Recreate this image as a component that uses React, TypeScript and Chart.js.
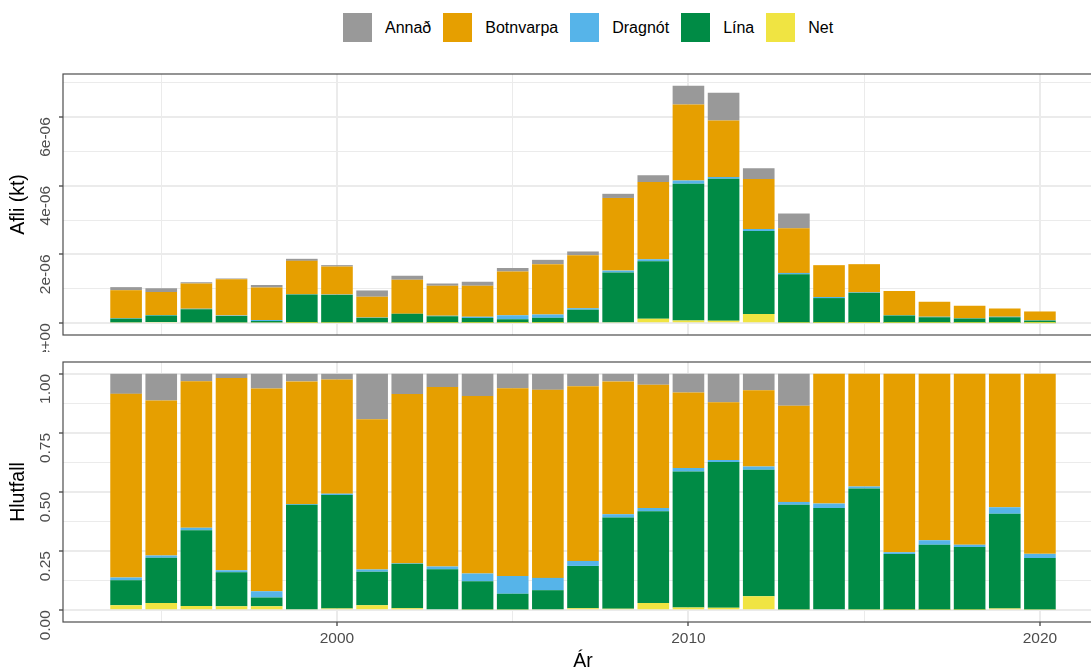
import React, { useEffect, useRef } from "react";
import { Chart, registerables } from "chart.js";

Chart.register(...registerables);

const FONT = "'Liberation Sans', Arial, Helvetica, sans-serif";

// Years and catch by gear (values in units of 1e-6 kt)
const years = [1994, 1995, 1996, 1997, 1998, 1999, 2000, 2001, 2002, 2003, 2004, 2005, 2006, 2007, 2008, 2009, 2010, 2011, 2012, 2013, 2014, 2015, 2016, 2017, 2018, 2019, 2020];
const UNIT = 1e-6;
const net = [0.022, 0.031, 0.021, 0.022, 0.019, 0.007, 0.012, 0.020, 0.011, 0.005, 0.004, 0.005, 0.007, 0.017, 0.023, 0.129, 0.076, 0.067, 0.266, 0.010, 0.007, 0.005, 0.002, 0.001, 0.001, 0.003, 0.001];
const lina = [0.111, 0.195, 0.383, 0.187, 0.041, 0.828, 0.811, 0.135, 0.259, 0.195, 0.144, 0.106, 0.149, 0.374, 1.454, 1.673, 3.982, 4.139, 2.416, 1.415, 0.723, 0.880, 0.220, 0.171, 0.134, 0.171, 0.074];
const dragnot = [0.012, 0.010, 0.012, 0.010, 0.029, 0.006, 0.010, 0.009, 0.004, 0.014, 0.039, 0.120, 0.096, 0.044, 0.053, 0.060, 0.097, 0.054, 0.063, 0.038, 0.032, 0.014, 0.007, 0.012, 0.005, 0.012, 0.006];
const botnvarpa = [0.815, 0.668, 0.739, 1.058, 0.950, 0.973, 0.816, 0.605, 0.987, 0.878, 0.904, 1.274, 1.467, 1.544, 2.117, 2.250, 2.212, 1.644, 1.454, 1.300, 0.927, 0.819, 0.704, 0.437, 0.366, 0.241, 0.259];
const annad = [0.089, 0.115, 0.038, 0.023, 0.069, 0.060, 0.041, 0.183, 0.117, 0.064, 0.113, 0.098, 0.125, 0.109, 0.121, 0.198, 0.546, 0.805, 0.316, 0.431, 0, 0, 0, 0, 0, 0, 0];

// Gear names and colours (stack order: bottom first)
const gearNames = ["Net", "Lína", "Dragnót", "Botnvarpa", "Annað"];
const gearColors = ["#F0E442", "#008B45", "#56B4E9", "#E69F00", "#999999"];
const gearValues = [net, lina, dragnot, botnvarpa, annad];
const legendOrder = [4, 3, 2, 1, 0];

// Axis ticks
const xGridValues = [1995, 2000, 2005, 2010, 2015, 2020];
const xTickLabels = ["2000", "2010", "2020"];
const topGridValues = [0, 1, 2, 3, 4, 5, 6, 7];
const topTickValues = [0, 2, 4, 6];
const topTickLabels = ["0e+00", "2e-06", "4e-06", "6e-06"];
const botGridValues = [0, 0.125, 0.25, 0.375, 0.5, 0.625, 0.75, 0.875, 1];
const botTickValues = [0, 0.25, 0.5, 0.75, 1];
const botTickLabels = ["0.00", "0.25", "0.50", "0.75", "1.00"];

const totals = years.map((_, i) => gearValues.reduce((s, arr) => s + arr[i], 0));

const borderPlugin = {
  id: "panelBorder",
  afterDraw(chart: any) {
    const { ctx, chartArea: a } = chart;
    ctx.save();
    ctx.strokeStyle = "#4D4D4D";
    ctx.lineWidth = 1.2;
    ctx.strokeRect(a.left, a.top, a.right - a.left, a.bottom - a.top);
    ctx.restore();
  },
};

const near = (a: number, b: number) => Math.abs(a - b) < 1e-9;

function buildDatasets(proportional: boolean) {
  return gearValues.map((vals, g) => ({
    label: gearNames[g],
    data: years.map((yr, i) => ({
      x: yr,
      y: proportional ? vals[i] / totals[i] : vals[i] * UNIT,
    })),
    backgroundColor: gearColors[g],
    borderWidth: 0,
    barPercentage: 0.9,
    categoryPercentage: 1,
  }));
}

function xScale(showLabels: boolean, height: number) {
  return {
    type: "linear",
    stacked: true,
    bounds: "data",
    offset: false,
    min: 1992.205,
    max: 2021.795,
    afterBuildTicks: (s: any) => {
      s.ticks = xGridValues.map((v) => ({ value: v }));
    },
    afterFit: (s: any) => {
      s.height = height;
      s.paddingLeft = 0;
      s.paddingRight = 0;
    },
    ticks: {
      display: showLabels,
      autoSkip: false,
      maxRotation: 0,
      minRotation: 0,
      padding: 3,
      color: "#4D4D4D",
      font: { family: FONT, size: 15.5 },
      callback: (v: any) => {
        const lbl = xTickLabels.find((t) => Number(t) === v);
        return lbl ?? "";
      },
    },
    grid: {
      offset: false,
      color: "#EBEBEB",
      lineWidth: (c: any) => (c.tick && c.tick.value % 10 === 0 ? 2 : 1),
      drawTicks: showLabels,
      tickLength: 4,
      tickWidth: 1.2,
      tickColor: (c: any) => (c.tick && c.tick.value % 10 === 0 ? "#333333" : "rgba(0,0,0,0)"),
    },
    border: { display: false },
    title: showLabels
      ? {
          display: true,
          text: "Ár",
          color: "#000",
          font: { family: FONT, size: 19.5, lineHeight: 1 },
          padding: { top: 0, bottom: 0 },
        }
      : { display: false },
  };
}

function yScale(min: number, max: number, grid: number[], tickVals: number[], tickLbls: string[], unit: number, title: string) {
  return {
    type: "linear",
    stacked: true,
    bounds: "data",
    min,
    max,
    afterBuildTicks: (s: any) => {
      s.ticks = grid.map((v) => ({ value: v * unit }));
    },
    afterFit: (s: any) => {
      s.width = 63;
      s.paddingTop = 0;
      s.paddingBottom = 0;
    },
    ticks: {
      autoSkip: false,
      minRotation: 90,
      maxRotation: 90,
      padding: 13,
      color: "#4D4D4D",
      font: { family: FONT, size: 15.5 },
      callback: (v: any) => {
        const idx = tickVals.findIndex((t) => near(t, v / unit));
        return idx >= 0 ? tickLbls[idx] : "";
      },
    },
    grid: {
      color: "#EBEBEB",
      lineWidth: (c: any) => {
        if (!c.tick) return 1;
        return tickVals.some((t) => near(t, c.tick.value / unit)) ? 2 : 1;
      },
      drawTicks: true,
      tickLength: 4,
      tickWidth: 1.2,
      tickColor: (c: any) => {
        if (!c.tick) return "rgba(0,0,0,0)";
        return tickVals.some((t) => near(t, c.tick.value / unit)) ? "#333333" : "rgba(0,0,0,0)";
      },
    },
    border: { display: false },
    title: {
      display: true,
      text: title,
      color: "#000",
      font: { family: FONT, size: 19.5, lineHeight: 1 },
      padding: { top: 9, bottom: 0 },
    },
  };
}

export default function App() {
  const topRef = useRef<HTMLCanvasElement | null>(null);
  const botRef = useRef<HTMLCanvasElement | null>(null);

  useEffect(() => {
    if (!topRef.current || !botRef.current) return;
    const top = new Chart(topRef.current, {
      type: "bar",
      data: { datasets: buildDatasets(false) as any },
      options: {
        animation: false,
        responsive: true,
        maintainAspectRatio: false,
        layout: { padding: { top: 14, bottom: 0, left: 0, right: 1 } },
        plugins: { legend: { display: false }, tooltip: { enabled: false } },
        scales: {
          x: xScale(false, 17) as any,
          y: yScale(-0.3457 * UNIT, 7.2587 * UNIT, topGridValues, topTickValues, topTickLabels, UNIT, "Afli (kt)") as any,
        },
      },
      plugins: [borderPlugin],
    });
    const bot = new Chart(botRef.current, {
      type: "bar",
      data: { datasets: buildDatasets(true) as any },
      options: {
        animation: false,
        responsive: true,
        maintainAspectRatio: false,
        layout: { padding: { top: 10, bottom: 0, left: 0, right: 1 } },
        plugins: { legend: { display: false }, tooltip: { enabled: false } },
        scales: {
          x: xScale(true, 49) as any,
          y: yScale(-0.05, 1.05, botGridValues, botTickValues, botTickLabels, 1, "Hlutfall") as any,
        },
      },
      plugins: [borderPlugin],
    });
    return () => {
      top.destroy();
      bot.destroy();
    };
  }, []);

  return (
    <div style={{ position: "absolute", left: 0, top: 0, width: 1091, height: 671, overflow: "hidden", background: "#fff", fontFamily: FONT }}>
      <div style={{ position: "absolute", left: 343, top: 13, display: "flex", alignItems: "center", height: 29 }}>
        {legendOrder.map((g) => (
          <div key={g} style={{ display: "flex", alignItems: "center", marginRight: 12 }}>
            <div style={{ width: 29, height: 29, background: gearColors[g] }} />
            <span style={{ marginLeft: 13, fontSize: 16, color: "#000", lineHeight: "29px" }}>{gearNames[g]}</span>
          </div>
        ))}
      </div>
      <div style={{ position: "absolute", left: 0, top: 60, width: 1104, height: 292 }}>
        <canvas ref={topRef} />
      </div>
      <div style={{ position: "absolute", left: 0, top: 352, width: 1104, height: 319 }}>
        <canvas ref={botRef} />
      </div>
    </div>
  );
}
